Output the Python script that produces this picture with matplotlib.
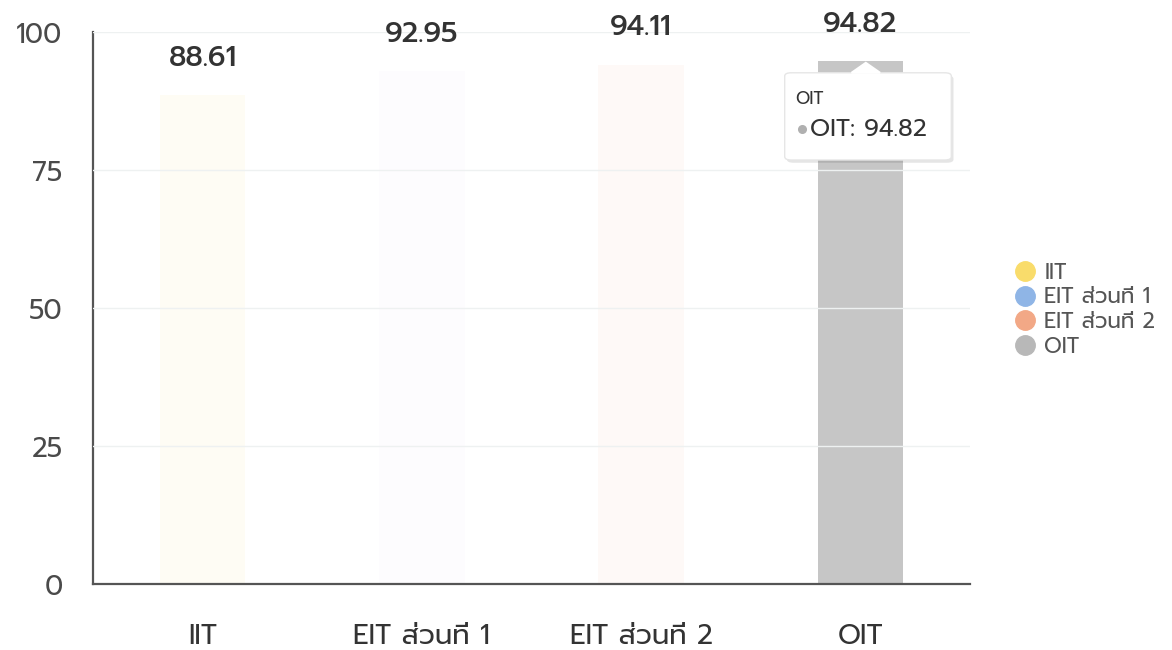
import matplotlib
matplotlib.use("Agg")
import matplotlib.pyplot as plt
from matplotlib.patches import FancyBboxPatch, Polygon
from matplotlib.lines import Line2D

categories = ["IIT", "EIT ส่วนที่ 1", "EIT ส่วนที่ 2", "OIT"]
values = [88.61, 92.95, 94.11, 94.82]
yticks = [0, 25, 50, 75, 100]
legend_colors = ["#f9dc6b", "#8fb5e6", "#f2a886", "#b8b8b8"]
bar_alpha = [0.07, 0.03, 0.06, 1.0]
bar_colors = ["#f9dc6b", "#c9b8e6", "#f2a886", "#c6c6c6"]
hover_index = 3

FONT = ["Prompt", "DejaVu Sans"]
plt.rcParams["font.family"] = FONT

fig = plt.figure(figsize=(11.72, 6.5), dpi=100)
ax = fig.add_axes([0.0794, 0.1015, 0.7482, 0.8492])

x = list(range(len(categories)))
ax.bar(x, values, width=0.39, color=bar_colors, zorder=2)
for bar, a in zip(ax.patches, bar_alpha):
    bar.set_alpha(a)

ax.set_xlim(-0.5, len(categories) - 0.5)
ax.set_ylim(0, 100)
ax.set_yticks(yticks)
ax.set_yticklabels([str(t) for t in yticks], fontsize=19.5, color="#4a4a4a")
ax.set_xticks(x)
ax.set_xticklabels(categories, fontsize=20, color="#333333")
ax.tick_params(axis="y", length=0, pad=22)
ax.tick_params(axis="x", length=0, pad=28)

for t in yticks[1:]:
    ax.axhline(t, color="#eef1f1", lw=1, zorder=3)

for s in ["top", "right"]:
    ax.spines[s].set_visible(False)
ax.spines["left"].set_color("#555555")
ax.spines["bottom"].set_color("#555555")
ax.spines["left"].set_linewidth(1.6)
ax.spines["bottom"].set_linewidth(1.6)

for xi, v in zip(x, values):
    ax.annotate(f"{v:.2f}", xy=(xi, v), xytext=(0, 26), textcoords="offset points",
                ha="center", va="center", fontsize=20.5, color="#333333", fontweight="medium")

# tooltip for hovered bar
hx, hv = x[hover_index], values[hover_index]
box_bottom, box_top = hv - 18.0, hv - 2.2
bx0, bw = hx - 0.345, 0.76
shadow = FancyBboxPatch((bx0 + 0.01, box_bottom - 0.5), bw, box_top - box_bottom,
                        boxstyle="round,pad=0,rounding_size=0.03", fc="#000000", ec="none",
                        alpha=0.10, zorder=5, mutation_aspect=20)
ax.add_patch(shadow)
box = FancyBboxPatch((bx0, box_bottom), bw, box_top - box_bottom,
                     boxstyle="round,pad=0,rounding_size=0.03", fc="white", ec="#e6e6e6",
                     lw=1, zorder=6, mutation_aspect=20)
ax.add_patch(box)
notch = Polygon([(hx - 0.04, box_top), (hx + 0.025, hv - 0.4), (hx + 0.09, box_top)],
                closed=True, fc="white", ec="white", lw=1.5, zorder=7)
ax.add_patch(notch)
ax.text(bx0 + 0.05, box_top - 4.9, categories[hover_index], fontsize=12.5, color="#333333",
        ha="left", va="center", zorder=8)
ax.plot([bx0 + 0.08], [box_top - 10.2], marker="o", ms=5.5, color="#b0b0b0", zorder=8,
        clip_on=False)
ax.text(bx0 + 0.115, box_top - 10.2, f"{categories[hover_index]}: {hv:.2f}", fontsize=17.5,
        color="#333333", ha="left", va="center", zorder=8)

handles = [Line2D([], [], marker="o", ls="none", ms=14, color=c) for c in legend_colors]
leg = fig.legend(handles, categories, loc="center left", bbox_to_anchor=(0.848, 0.523),
                 frameon=False, fontsize=15.5, labelspacing=0.17, handletextpad=0.35,
                 handlelength=1.1)
for t in leg.get_texts():
    t.set_color("#555555")

fig.savefig("out.png", dpi=100)
